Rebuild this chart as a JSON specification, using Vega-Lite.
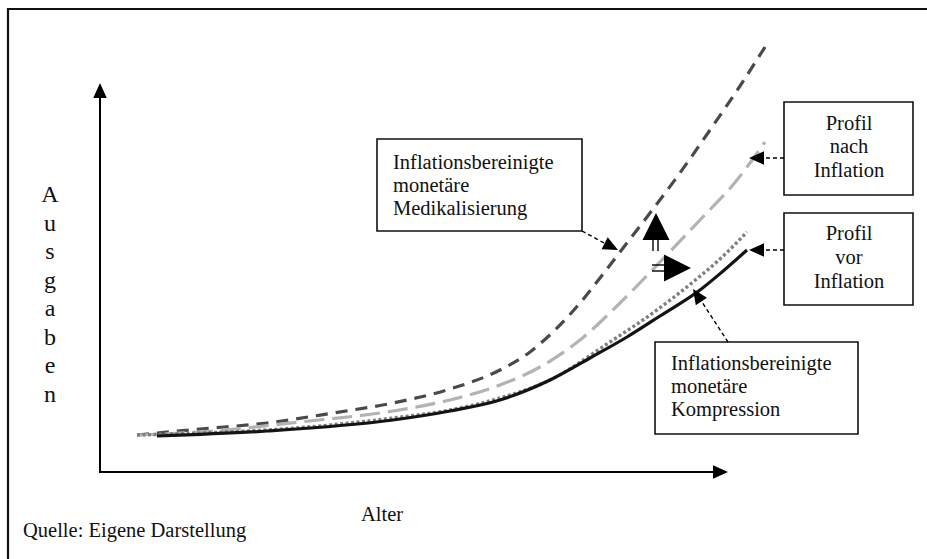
{
  "$schema": "https://vega.github.io/schema/vega-lite/v6.json",
  "width": 927,
  "height": 559,
  "autosize": {"type": "fit", "contains": "padding"},
  "padding": 0,
  "background": "white",
  "config": {"view": {"stroke": null}},
  "datasets": {
    "curves": [
      {"s": "dark", "x": 137, "y": 435}, {"s": "dark", "x": 200, "y": 429}, {"s": "dark", "x": 267, "y": 423}, {"s": "dark", "x": 333, "y": 413}, {"s": "dark", "x": 393, "y": 403}, {"s": "dark", "x": 450, "y": 389}, {"s": "dark", "x": 500, "y": 370}, {"s": "dark", "x": 530, "y": 352}, {"s": "dark", "x": 555, "y": 330}, {"s": "dark", "x": 580, "y": 303}, {"s": "dark", "x": 600, "y": 278}, {"s": "dark", "x": 620, "y": 252}, {"s": "dark", "x": 650, "y": 213}, {"s": "dark", "x": 677, "y": 177}, {"s": "dark", "x": 710, "y": 130}, {"s": "dark", "x": 740, "y": 86}, {"s": "dark", "x": 765, "y": 47},
      {"s": "light", "x": 137, "y": 435}, {"s": "light", "x": 200, "y": 432}, {"s": "light", "x": 300, "y": 422}, {"s": "light", "x": 393, "y": 411}, {"s": "light", "x": 450, "y": 400}, {"s": "light", "x": 500, "y": 385}, {"s": "light", "x": 540, "y": 367}, {"s": "light", "x": 580, "y": 340}, {"s": "light", "x": 620, "y": 303}, {"s": "light", "x": 660, "y": 262}, {"s": "light", "x": 700, "y": 220}, {"s": "light", "x": 737, "y": 180}, {"s": "light", "x": 765, "y": 142},
      {"s": "dotted", "x": 137, "y": 435}, {"s": "dotted", "x": 200, "y": 433}, {"s": "dotted", "x": 267, "y": 430}, {"s": "dotted", "x": 393, "y": 418}, {"s": "dotted", "x": 450, "y": 410}, {"s": "dotted", "x": 500, "y": 398}, {"s": "dotted", "x": 550, "y": 380}, {"s": "dotted", "x": 610, "y": 342}, {"s": "dotted", "x": 650, "y": 315}, {"s": "dotted", "x": 693, "y": 282}, {"s": "dotted", "x": 720, "y": 259}, {"s": "dotted", "x": 747, "y": 232},
      {"s": "solid", "x": 157, "y": 436}, {"s": "solid", "x": 267, "y": 431}, {"s": "solid", "x": 393, "y": 420}, {"s": "solid", "x": 450, "y": 411}, {"s": "solid", "x": 500, "y": 400}, {"s": "solid", "x": 550, "y": 380}, {"s": "solid", "x": 590, "y": 358}, {"s": "solid", "x": 627, "y": 337}, {"s": "solid", "x": 660, "y": 316}, {"s": "solid", "x": 700, "y": 290}, {"s": "solid", "x": 722, "y": 272}, {"s": "solid", "x": 747, "y": 250}
    ],
    "frame": [{"x": 8, "y": 9, "x2": 945, "y2": 580}],
    "axes": [{"x": 100, "y": 473, "x2": 100, "y2": 92}, {"x": 99, "y": 472, "x2": 718, "y2": 472}],
    "boxes": [
      {"x": 377, "y": 139, "x2": 582, "y2": 231},
      {"x": 784, "y": 102, "x2": 913, "y2": 195},
      {"x": 784, "y": 213, "x2": 913, "y2": 305},
      {"x": 655, "y": 342, "x2": 858, "y2": 434}
    ],
    "connectors": [
      {"x": 582, "y": 231, "x2": 606, "y2": 244},
      {"x": 784, "y": 158, "x2": 760, "y2": 158},
      {"x": 784, "y": 250, "x2": 760, "y2": 250},
      {"x": 728, "y": 342, "x2": 700, "y2": 299}
    ],
    "smallHeads": [
      {"x": 100, "y": 83, "a": 270}, {"x": 728, "y": 472, "a": 0}, {"x": 618, "y": 250, "a": 27},
      {"x": 749, "y": 158, "a": 180}, {"x": 749, "y": 250, "a": 180}, {"x": 693, "y": 289, "a": 236}
    ],
    "bigHeads": [{"x": 656, "y": 213, "a": 270}, {"x": 691, "y": 268, "a": 0}],
    "bars": [
      {"x": 653, "y": 240, "x2": 653, "y2": 251}, {"x": 658, "y": 240, "x2": 658, "y2": 251},
      {"x": 652, "y": 265, "x2": 665, "y2": 265}, {"x": 652, "y": 271, "x2": 665, "y2": 271}
    ],
    "leftText": [
      {"x": 393, "y": 169, "t": "Inflationsbereinigte"}, {"x": 393, "y": 192, "t": "monetäre"}, {"x": 393, "y": 215, "t": "Medikalisierung"},
      {"x": 671, "y": 370, "t": "Inflationsbereinigte"}, {"x": 671, "y": 393, "t": "monetäre"}, {"x": 671, "y": 416, "t": "Kompression"},
      {"x": 23, "y": 537, "t": "Quelle: Eigene Darstellung"}
    ],
    "centerText": [
      {"x": 849, "y": 130, "t": "Profil"}, {"x": 849, "y": 153, "t": "nach"}, {"x": 849, "y": 177, "t": "Inflation"},
      {"x": 849, "y": 240, "t": "Profil"}, {"x": 849, "y": 264, "t": "vor"}, {"x": 849, "y": 288, "t": "Inflation"},
      {"x": 382, "y": 521, "t": "Alter"}
    ],
    "ausgaben": [
      {"x": 50, "y": 202, "t": "A"}, {"x": 50, "y": 231, "t": "u"}, {"x": 50, "y": 259, "t": "s"}, {"x": 50, "y": 288, "t": "g"},
      {"x": 50, "y": 316, "t": "a"}, {"x": 50, "y": 345, "t": "b"}, {"x": 50, "y": 373, "t": "e"}, {"x": 50, "y": 402, "t": "n"}
    ]
  },
  "encoding": {
    "x": {"field": "x", "type": "quantitative", "scale": {"domain": [0, 927], "nice": false, "zero": false}, "axis": null},
    "y": {"field": "y", "type": "quantitative", "scale": {"domain": [0, 559], "reverse": true, "nice": false, "zero": false}, "axis": null}
  },
  "layer": [
    {
      "data": {"name": "frame"},
      "mark": {"type": "rect", "fill": null, "fillOpacity": 0, "stroke": "#111111", "strokeWidth": 2.2, "clip": true},
      "encoding": {"x2": {"field": "x2"}, "y2": {"field": "y2"}}
    },
    {
      "data": {"name": "axes"},
      "mark": {"type": "rule", "color": "#000000", "strokeWidth": 2},
      "encoding": {"x2": {"field": "x2"}, "y2": {"field": "y2"}}
    },
    {
      "data": {"name": "curves"},
      "transform": [{"filter": "datum.s === 'dark'"}],
      "mark": {"type": "line", "interpolate": "monotone", "color": "#4a4a4a", "strokeWidth": 3.2, "strokeDash": [12, 8]}
    },
    {
      "data": {"name": "curves"},
      "transform": [{"filter": "datum.s === 'light'"}],
      "mark": {"type": "line", "interpolate": "monotone", "color": "#b3b3b3", "strokeWidth": 3.2, "strokeDash": [20, 8]}
    },
    {
      "data": {"name": "curves"},
      "transform": [{"filter": "datum.s === 'dotted'"}],
      "mark": {"type": "line", "interpolate": "monotone", "color": "#808080", "strokeWidth": 3.4, "strokeDash": [3, 2.5]}
    },
    {
      "data": {"name": "curves"},
      "transform": [{"filter": "datum.s === 'solid'"}],
      "mark": {"type": "line", "interpolate": "monotone", "color": "#141414", "strokeWidth": 3.2}
    },
    {
      "data": {"name": "boxes"},
      "mark": {"type": "rect", "fill": "white", "stroke": "#111111", "strokeWidth": 1.6},
      "encoding": {"x2": {"field": "x2"}, "y2": {"field": "y2"}}
    },
    {
      "data": {"name": "connectors"},
      "mark": {"type": "rule", "color": "#000000", "strokeWidth": 1.4, "strokeDash": [4, 3]},
      "encoding": {"x2": {"field": "x2"}, "y2": {"field": "y2"}}
    },
    {
      "data": {"name": "bars"},
      "mark": {"type": "rule", "color": "#000000", "strokeWidth": 1.4},
      "encoding": {"x2": {"field": "x2"}, "y2": {"field": "y2"}}
    },
    {
      "data": {"name": "smallHeads"},
      "mark": {"type": "point", "shape": "M0,0L-2,-0.9L-2,0.9Z", "filled": true, "color": "#000000", "opacity": 1, "size": 225, "strokeWidth": 0},
      "encoding": {"angle": {"field": "a", "type": "quantitative", "scale": null}}
    },
    {
      "data": {"name": "bigHeads"},
      "mark": {"type": "point", "shape": "M0,0L-2,-1L-2,1Z", "filled": true, "color": "#000000", "opacity": 1, "size": 729, "strokeWidth": 0},
      "encoding": {"angle": {"field": "a", "type": "quantitative", "scale": null}}
    },
    {
      "data": {"name": "leftText"},
      "mark": {"type": "text", "align": "left", "baseline": "alphabetic", "font": "Liberation Serif", "fontSize": 20.5, "color": "#111111"},
      "encoding": {"text": {"field": "t"}}
    },
    {
      "data": {"name": "centerText"},
      "mark": {"type": "text", "align": "center", "baseline": "alphabetic", "font": "Liberation Serif", "fontSize": 20.5, "color": "#111111"},
      "encoding": {"text": {"field": "t"}}
    },
    {
      "data": {"name": "ausgaben"},
      "mark": {"type": "text", "align": "center", "baseline": "alphabetic", "font": "Liberation Serif", "fontSize": 24, "color": "#111111"},
      "encoding": {"text": {"field": "t"}}
    }
  ]
}
